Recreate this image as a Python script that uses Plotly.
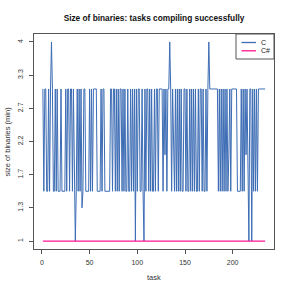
import numpy as np
import plotly.graph_objects as go

# ---------------- data ----------------
tasks = list(range(1, 235))

c_sizes = [
    3.05, 1.5, 3.05, 3.05, 1.5, 1.5, 3.05, 1.5, 3.05, 4,
    3.05, 1.5, 1.5, 3.05, 1.5, 3.05, 1.5, 1.5, 1.5, 3.05,
    1.5, 1.5, 1.5, 1.5, 3.05, 1.5, 3.05, 3.05, 1.5, 3.05,
    3.05, 1.5, 3.05, 1.5, 1, 1.5, 3.05, 1.5, 3.05, 1.5,
    3.05, 1.3, 1.5, 3.05, 3.05, 1.5, 1.5, 1.5, 1.5, 3.05,
    1.5, 3.05, 1.5, 3.05, 3.05, 3.05, 3.05, 1.5, 1.5, 1.5,
    1.5, 3.05, 1.5, 3.05, 3.05, 1.5, 1.5, 1.5, 1.5, 1.5,
    1.5, 3.05, 3.05, 1.5, 3.05, 3.05, 1.5, 3.05, 1.5, 3.05,
    1.5, 3.05, 3.05, 1.5, 3.05, 1.5, 3.05, 1.5, 1.5, 3.05,
    1.5, 1.5, 3.05, 1.5, 3.05, 1.5, 3.05, 1, 3.05, 1.5,
    3.05, 3.05, 1.5, 1.5, 3.05, 1.5, 1, 3.05, 1.5, 3.05,
    3.05, 1.5, 3.05, 1.5, 3.05, 1.5, 1.5, 3.05, 1.5, 3.05,
    3.05, 1.5, 3.05, 3.05, 3.05, 3.05, 1.5, 3.05, 2, 3.05,
    1.5, 3.05, 3.05, 4, 3.05, 1.5, 3.05, 2, 1.5, 3.05,
    1.5, 3.05, 1.5, 3.05, 1.5, 3.05, 1.5, 1.5, 3.05, 3.05,
    1.5, 3.05, 1.5, 1.5, 3.05, 1.5, 3.05, 1.5, 3.05, 1.5,
    3.05, 1.5, 1.5, 3.05, 1.5, 3.05, 3.05, 1.5, 3.05, 1.5,
    1.5, 3.05, 1.5, 3.05, 4, 3.05, 3.05, 3.05, 3.05, 3.05,
    3.05, 3.05, 3.05, 3.05, 1.5, 3.05, 1.5, 3.05, 1.5, 3.05,
    1.5, 3.05, 1.5, 3.05, 1.5, 2, 3.05, 1.5, 3.05, 3.05,
    3.05, 3.05, 3.05, 3.05, 1.5, 1.5, 1.5, 1.5, 3.05, 1.5,
    3.05, 1.5, 3.05, 2, 3.05, 1.5, 1, 3.05, 3.05, 1,
    3.05, 1.5, 3.05, 1.5, 3.05, 1.5, 3.05, 3.05, 3.05, 3.05,
    3.05, 3.05, 3.05, 3.05,
]

csharp_sizes = [1.0] * len(tasks)

y_tick_values = [1, 1.3, 1.7, 2.2, 2.7, 3.3, 4]
y_tick_labels = ["1", "1.3", "1.7", "2.2", "2.7", "3.3", "4"]
x_tick_values = [0, 50, 100, 150, 200]

series_names = ["C", "C#"]
series_colors = ["#3d6db5", "#ff1493"]

# ---------------- scale (axis uses evenly spaced labelled ticks) ----------------
tick_pos = np.arange(len(y_tick_values), dtype=float)


def to_axis(vals):
    return np.interp(vals, y_tick_values, tick_pos)


FONT = "Liberation Sans, Arial, Helvetica, sans-serif"
AXIS_COL = "#555555"
TEXT_COL = "#333333"

fig = go.Figure()
fig.add_trace(go.Scatter(x=tasks, y=to_axis(c_sizes), mode="lines",
                         line=dict(color=series_colors[0], width=1),
                         name=series_names[0], showlegend=False))
fig.add_trace(go.Scatter(x=tasks, y=to_axis(csharp_sizes), mode="lines",
                         line=dict(color=series_colors[1], width=1.3),
                         name=series_names[1], showlegend=False))

W = H = 291
ML, MR, MT, MB = 34, 17, 34, 42
PW, PH = W - ML - MR, H - MT - MB

n = len(tasks)
xpad = (n - 1) * 0.04
ypad = (tick_pos[-1] - tick_pos[0]) * 0.04

fig.update_layout(
    width=W, height=H, autosize=False,
    margin=dict(l=ML, r=MR, t=MT, b=MB),
    paper_bgcolor="white", plot_bgcolor="white",
    font=dict(family=FONT, size=7, color=TEXT_COL),
    title=dict(text="<b>Size of binaries: tasks compiling successfully</b>",
               x=(ML + PW / 2) / W, xanchor="center",
               y=1 - 18 / H, yanchor="middle",
               font=dict(size=8.3, color="#111111", family=FONT)),
    xaxis=dict(range=[1 - xpad, n + xpad], tickvals=x_tick_values,
               showline=True, mirror=True, linecolor=AXIS_COL, linewidth=1,
               ticks="outside", ticklen=4, tickcolor=AXIS_COL, tickwidth=1,
               showgrid=False, zeroline=False,
               tickfont=dict(size=7, color=TEXT_COL), ticklabelstandoff=3),
    yaxis=dict(range=[tick_pos[0] - ypad, tick_pos[-1] + ypad],
               tickvals=list(tick_pos), ticktext=y_tick_labels, tickangle=-90,
               showline=True, mirror=True, linecolor=AXIS_COL, linewidth=1,
               ticks="outside", ticklen=4, tickcolor=AXIS_COL, tickwidth=1,
               showgrid=False, zeroline=False,
               tickfont=dict(size=7, color=TEXT_COL), ticklabelstandoff=3),
    showlegend=False,
    hovermode=False,
)


def px_x(p):
    return (p - ML) / PW


def px_y(p):
    return (H - MB - p) / PH


# axis titles
fig.add_annotation(text="task", xref="paper", yref="paper",
                   x=0.5, y=px_y(277.7),
                   xanchor="center", yanchor="middle", showarrow=False,
                   font=dict(size=7.5, color=TEXT_COL, family=FONT))
fig.add_annotation(text="size of binaries (min)", xref="paper", yref="paper",
                   x=px_x(7), y=0.5, textangle=-90,
                   xanchor="center", yanchor="middle", showarrow=False,
                   font=dict(size=7.5, color=TEXT_COL, family=FONT))

# legend drawn as shapes/annotations to match compact box
fig.add_shape(type="rect", xref="paper", yref="paper",
              x0=px_x(236), x1=1.0, y0=px_y(59), y1=1.0,
              line=dict(color=AXIS_COL, width=1), fillcolor="white")
for i, (nm, col) in enumerate(zip(series_names, series_colors)):
    yy = px_y(42.5 + i * 8.3)
    fig.add_shape(type="line", xref="paper", yref="paper",
                  x0=px_x(241.5), x1=px_x(256), y0=yy, y1=yy,
                  line=dict(color=col, width=1.3))
    fig.add_annotation(text=nm, xref="paper", yref="paper",
                       x=px_x(259), y=yy, xanchor="left", yanchor="middle",
                       showarrow=False,
                       font=dict(size=7, color="#222222", family=FONT))

fig.write_html("out.html",
               config={"displayModeBar": False, "staticPlot": True},
               post_script="document.body.style.margin='0';document.body.style.padding='0';")
